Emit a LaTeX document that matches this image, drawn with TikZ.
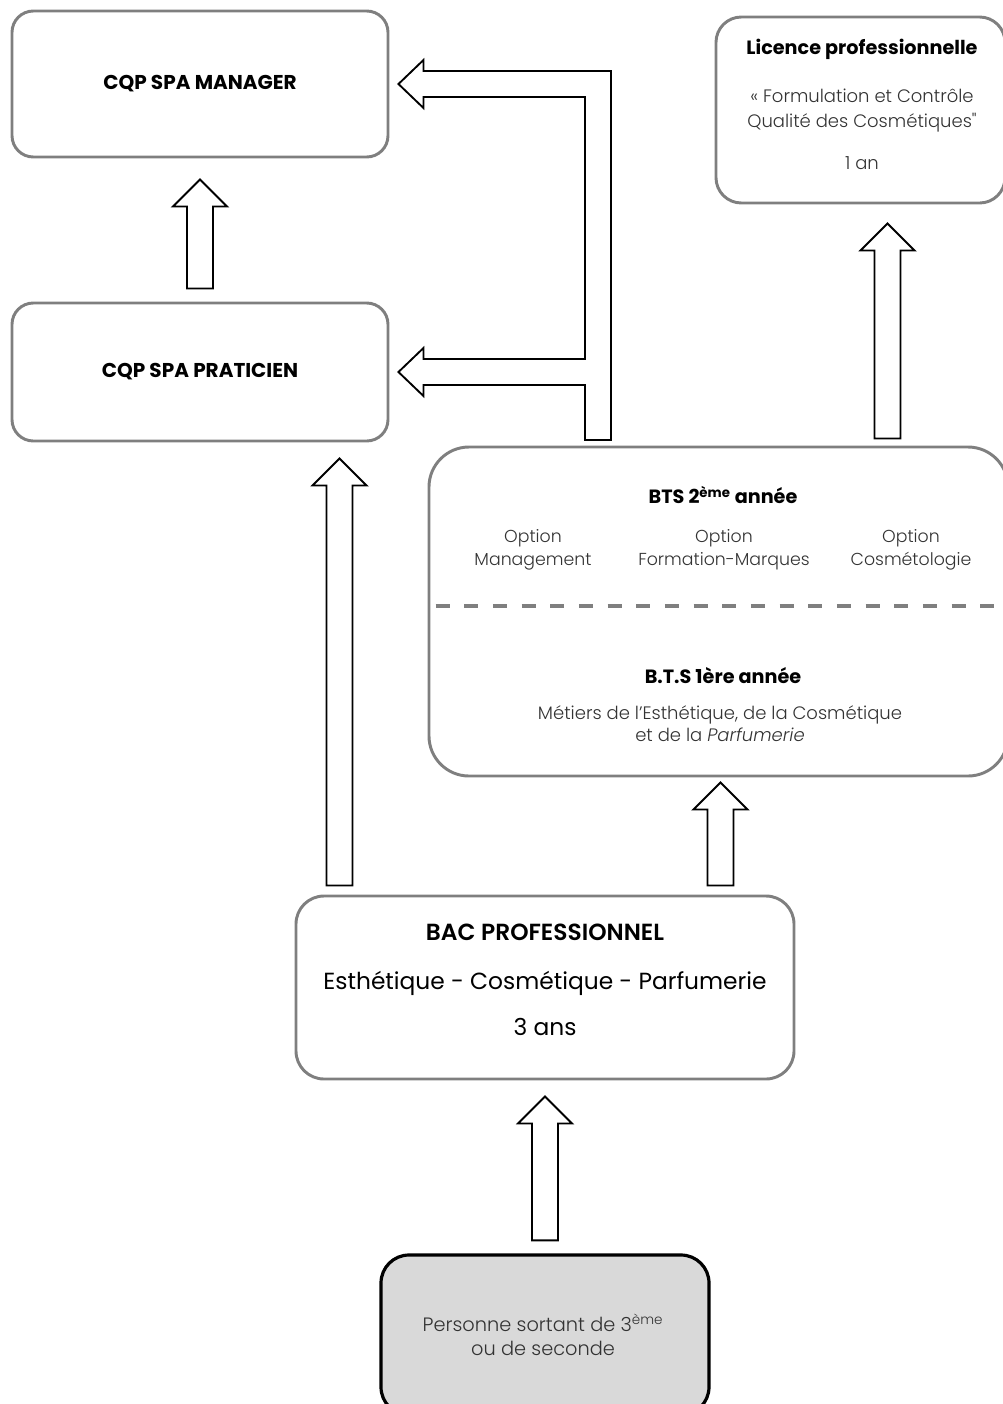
\documentclass[tikz,border=0pt]{standalone}
\usepackage{fontspec}
\setmainfont{Poppins}
\newfontfamily\lightfont{Poppins Light}
\newfontfamily\semifont{Poppins SemiBold}
\usepackage{xcolor}
\usetikzlibrary{calc,positioning}

\definecolor{boxgray}{HTML}{7F7F7F}
\definecolor{txtgray}{HTML}{333333}
\definecolor{startfill}{HTML}{D9D9D9}

% block arrow pointing up, from bottom point #1 to tip #2
\newcommand{\blockup}[2]{\draw[barrow] ($(#1)+(-13,0)$) -- ($(#2)+(-13,27)$) -- ++(-14,0) -- (#2) -- ++(27,27) -- ++(-14,0) -- ($(#1)+(13,0)$) -- cycle;}

\begin{document}
\begin{tikzpicture}[x=0.75pt, y=-0.75pt,
    box/.style={draw=boxgray, line width=2.2pt, rounded corners=16pt, inner sep=0pt},
    startbox/.style={draw=black, line width=2.4pt, fill=startfill, rounded corners=21pt, inner sep=0pt},
    barrow/.style={draw=black, line width=1.4pt, fill=white, line join=miter},
    title/.style={font=\bfseries\fontsize{14.4}{16}\selectfont},
    body/.style={font=\lightfont\fontsize{13.5}{17}\selectfont, text=txtgray},
    bac/.style={font=\fontsize{17.5}{20}\selectfont},
    sep/.style={draw=boxgray, line width=3pt, dash pattern=on 10.5pt off 11pt}
]
\useasboundingbox (0,0) rectangle (1003,1404);

% boxes
\node[box, minimum width=282pt, minimum height=109.5pt] (mgr) at (200,84) {};
\node[box, minimum width=282pt, minimum height=103.5pt] (prat) at (200,372) {};
\node[box, rounded corners=19pt, minimum width=216.75pt, minimum height=139.5pt] (lic) at (860.5,110) {};
\node[box, rounded corners=30pt, minimum width=434.25pt, minimum height=246.75pt] (bts) at (718.5,611.5) {};
\node[box, rounded corners=21pt, minimum width=373.5pt, minimum height=137.25pt] (bac) at (545,987.5) {};
\node[startbox, minimum width=246pt, minimum height=120pt] (pers) at (545,1335) {};

% texts
\node[title, font=\bfseries\fontsize{15}{17}\selectfont] (mgrt) at (200,84) {CQP SPA MANAGER};
\node[title, font=\bfseries\fontsize{15}{17}\selectfont] (pratt) at (200,372) {CQP SPA PRATICIEN};

\node[title] (lict) at (862,49) {Licence professionnelle};
\node[body] (lic1) at (862,96) {« Formulation et Contrôle};
\node[body] (lic2) at (862,123) {Qualité des Cosmétiques"};
\node[body] (lic3) at (862,163) {1 an};

\node[title] (bts2) at (723,495) {BTS 2\textsuperscript{ème} année};
\node[body, align=center, font=\lightfont\fontsize{13}{17}\selectfont] (opt1) at (533,550) {Option\\Management};
\node[body, align=center, font=\lightfont\fontsize{13}{17}\selectfont] (opt2) at (724,550) {Option\\Formation-Marques};
\node[body, align=center, font=\lightfont\fontsize{13}{17}\selectfont] (opt3) at (911,550) {Option\\Cosmétologie};
\draw[sep] ($(bts.west)+(8,-6)$) -- ($(bts.east)+(0,-6)$);
\node[title] (bts1) at (723,676) {B.T.S 1ère année};
\node[body, align=center, font=\lightfont\fontsize{13.5}{16.5}\selectfont] (met) at (720,724) {Métiers de l’Esthétique, de la Cosmétique\\et de la \textit{Parfumerie}};

\node[bac, font=\semifont\fontsize{17.5}{20}\selectfont] (bact) at (545,932) {BAC PROFESSIONNEL};
\node[bac] (bac1) at (545,983) {Esthétique - Cosmétique - Parfumerie};
\node[bac] (bac2) at (545,1027) {3 ans};

\node[body, align=center, font=\lightfont\fontsize{14.5}{18}\selectfont] (perst) at (543,1335) {Personne sortant de 3\textsuperscript{ème}\\ou de seconde};

% arrows
\coordinate (mtip) at ($(mgr.east)+(9,0)$);
\coordinate (ptip) at ($(prat.east)+(9,0)$);
\coordinate (fork) at (598,440);
\draw[barrow] ($(fork)+(13,0)$) |- ($(mtip)+(25,-13)$) -- ++(0,-11) -- (mtip) -- ++(25,24) -- ++(0,-11)
  -| ($(fork |- ptip)+(-13,-13)$) -- ($(ptip)+(25,-13)$) -- ++(0,-11) -- (ptip) -- ++(25,24) -- ++(0,-11)
  -| ($(fork)+(-13,0)$) -- cycle;

\coordinate (a1) at ($(prat.north)+(0,-13)$);
\coordinate (a2) at ($(bac.north west)+(45,-9)$);
\coordinate (a3) at ($(bac.north east)+(-75,-9)$);
\coordinate (a4) at ($(bts.north west)+(460,-7)$);
\coordinate (a5) at ($(pers.north)+(0,-13)$);
\blockup{a1}{$(mgr.south)+(0,21)$}
\blockup{a2}{$(a2 |- prat.south)+(0,16)$}
\blockup{a3}{$(a3 |- bts.south)+(0,5)$}
\blockup{a4}{$(a4 |- lic.south)+(0,19)$}
\blockup{a5}{$(bac.south)+(0,16)$}
\end{tikzpicture}
\end{document}
